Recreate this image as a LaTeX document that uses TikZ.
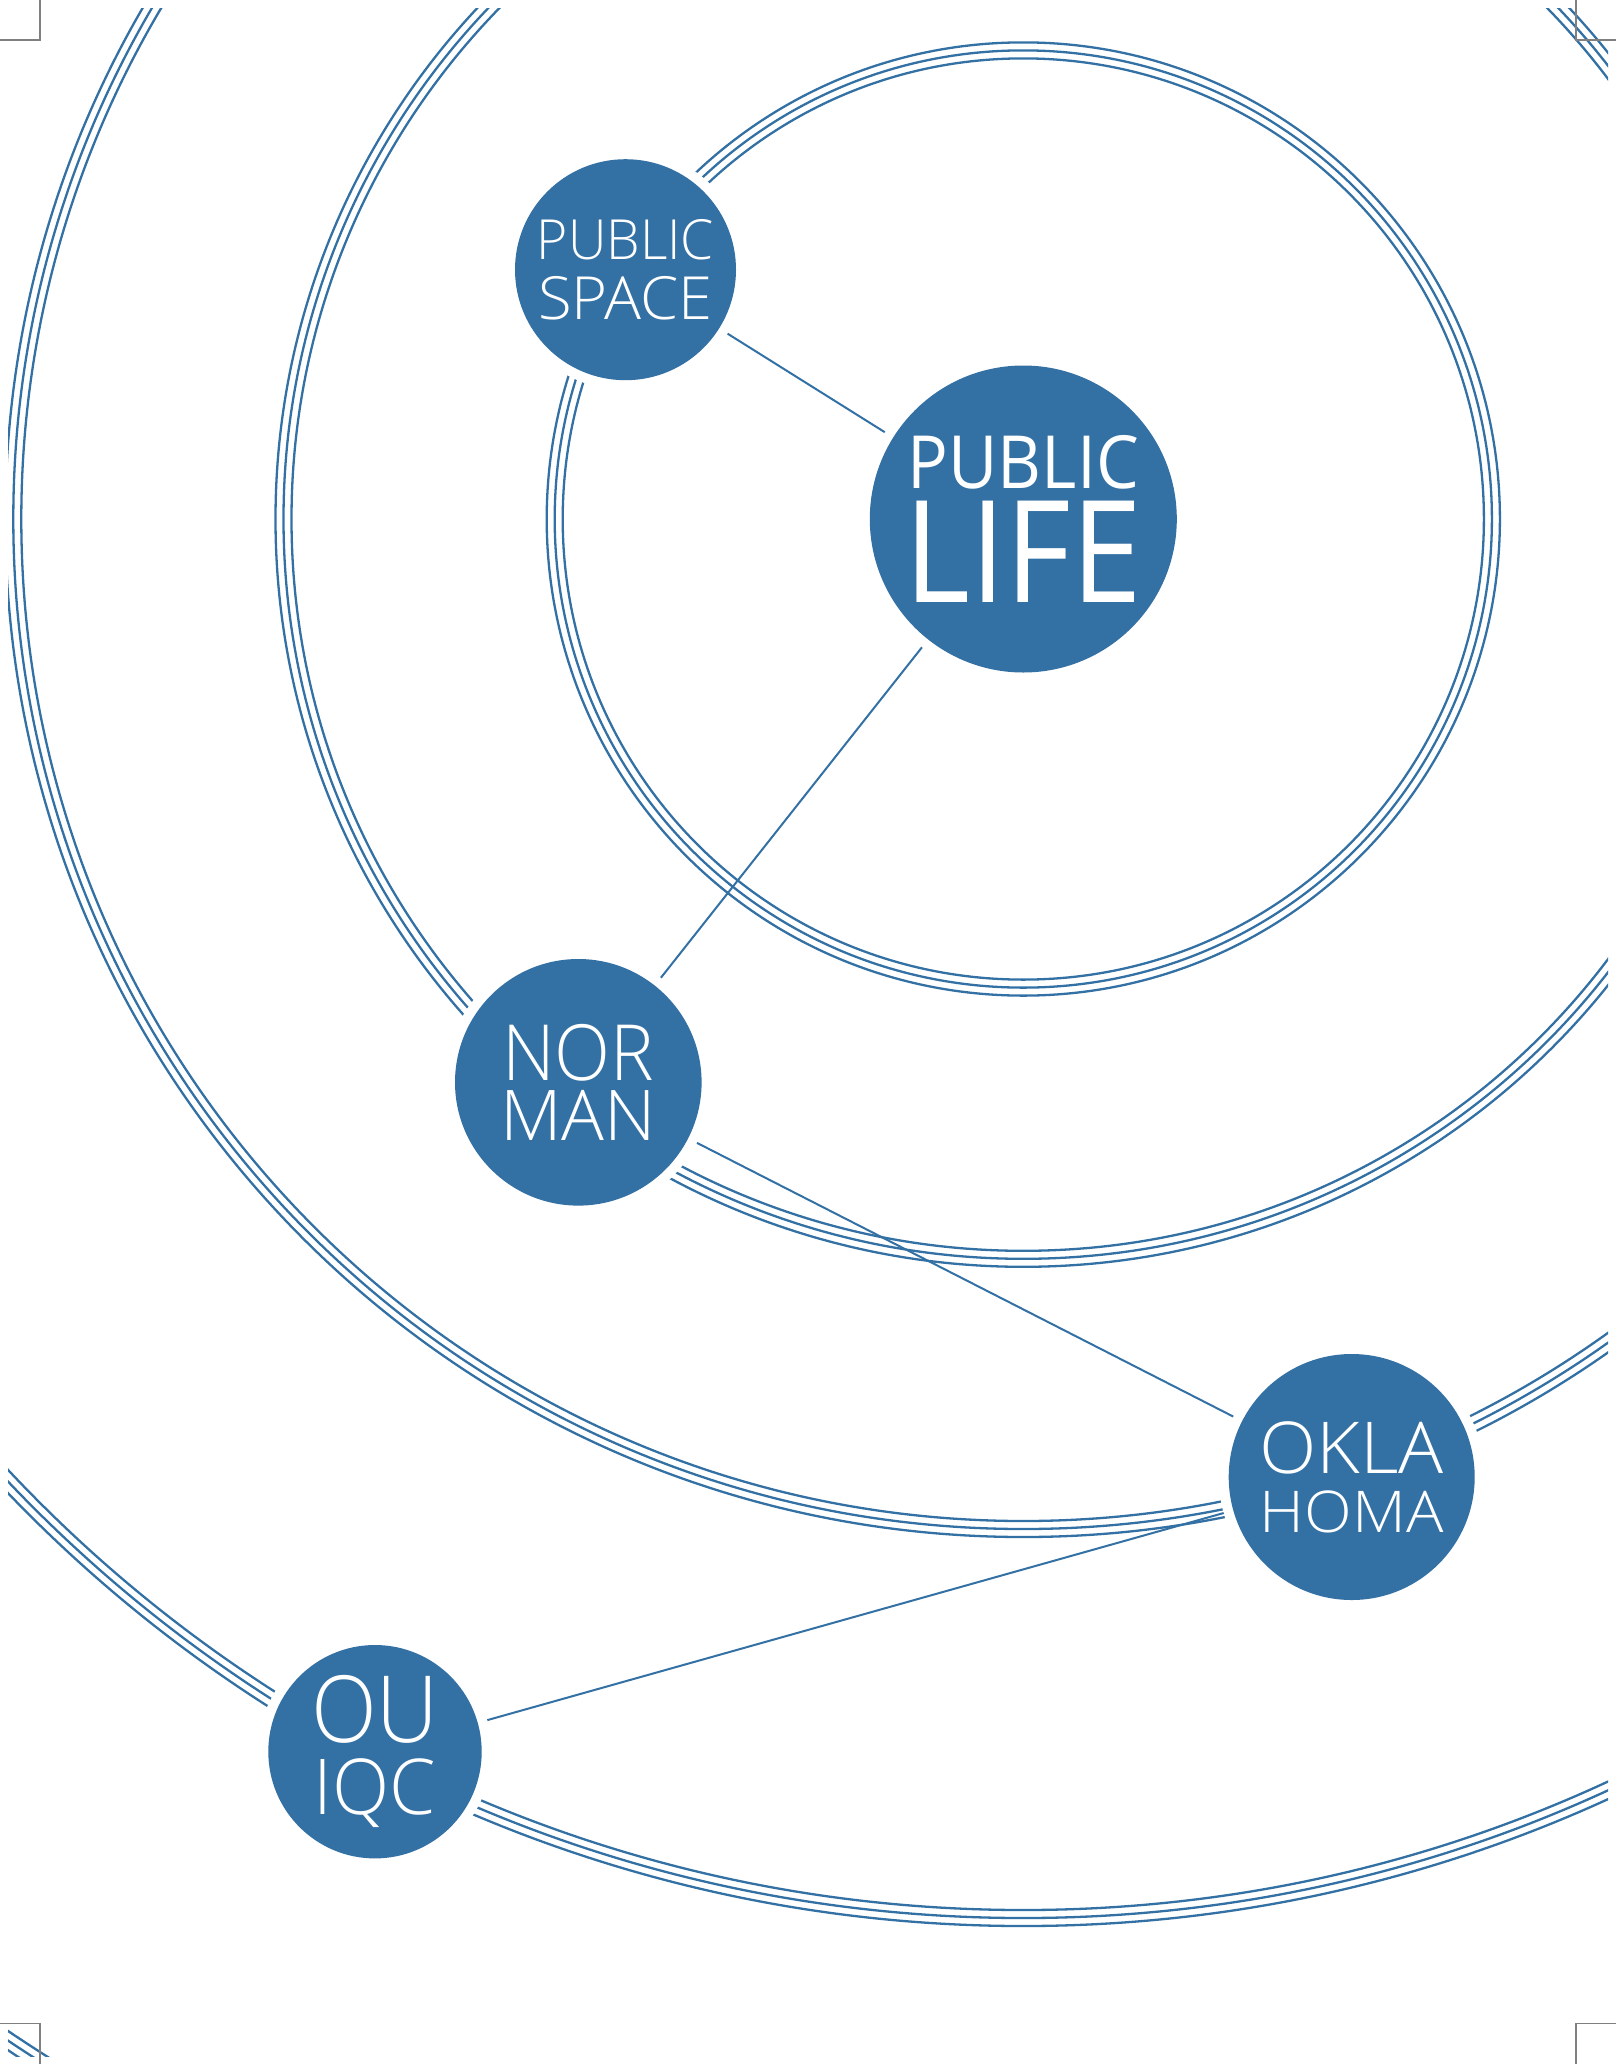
\documentclass[tikz,border=0pt]{standalone}
\usepackage{fontspec}
\setmainfont{Open Sans}[UprightFont={* Light}]
\newfontfamily\hubfont{Open Sans}
\usetikzlibrary{positioning}

\definecolor{oublue}{RGB}{51,112,164}
% one line of capitals, stretched to its width and cap height
\newcommand{\capline}[3]{\resizebox{#1pt}{#2pt}{#3}}

\begin{document}
\begin{tikzpicture}[
    x=1pt, y=-1pt,
    ring/.style={draw=oublue, line width=2.3pt},
    place/.style={circle, fill=oublue, text=white, align=center, inner sep=0pt, outer sep=10pt,
        preaction={draw=white, line width=20pt}, font=\fontsize{1}{0}\selectfont},
    link/.style={draw=oublue, line width=2pt},
    cropmark/.style={draw=black!50, line width=1.3pt}
]
    \useasboundingbox (0,0) rectangle (1616,2064);
    \coordinate (hub) at (1023.3,519);

    % Rings round the hub, three lines each
    \begin{scope}
        \clip (8,8) rectangle (1608,2056);
        \foreach \r in {468.6, 739.8, 1010, 1399, 1829}
            \foreach \d in {-8, 0, 8}
                \draw[ring] (hub) circle[radius=\r+\d];
    \end{scope}

    % Places
    \node[place, minimum size=307pt, font=\hubfont\fontsize{1}{0}\selectfont] (life) at (hub)
        {\capline{231}{53}{PUBLIC}\\[10.3pt]\capline{236}{101}{LIFE}};
    \node[place, minimum size=221pt] (space) at (625.5,269.7)
        {\capline{177}{40}{PUBLIC}\\[14.6pt]\capline{174}{43}{SPACE}};
    \node[place, minimum size=246.6pt] (norman) at (578.3,1082.3)
        {\capline{152}{56}{NOR}\\[7.4pt]\capline{155}{50}{MAN}};
    \node[place, minimum size=246pt] (oklahoma) at (1351.7,1477)
        {\capline{184}{51.7}{OKLA}\\[15.7pt]\capline{183}{41.6}{HOMA}};
    \node[place, minimum size=213.4pt] (ouiqc) at (375,1751.7)
        {\capline{127}{66.6}{OU}\\[14pt]\capline{122}{55.7}{IQC}};

    % Links
    \draw[link] (space) -- (life);
    \draw[link] (life) -- (norman);
    \draw[link] (norman) -- (oklahoma);
    \draw[link] (oklahoma) -- (ouiqc);

    % Crop marks
    \draw[cropmark] (0,40) -- (40,40) -- (40,0);
    \draw[cropmark] (1616,40) -- (1576,40) -- (1576,0);
    \draw[cropmark] (0,2023.3) -- (40,2023.3) -- (40,2064);
    \draw[cropmark] (1616,2023.3) -- (1576,2023.3) -- (1576,2064);
\end{tikzpicture}
\end{document}
